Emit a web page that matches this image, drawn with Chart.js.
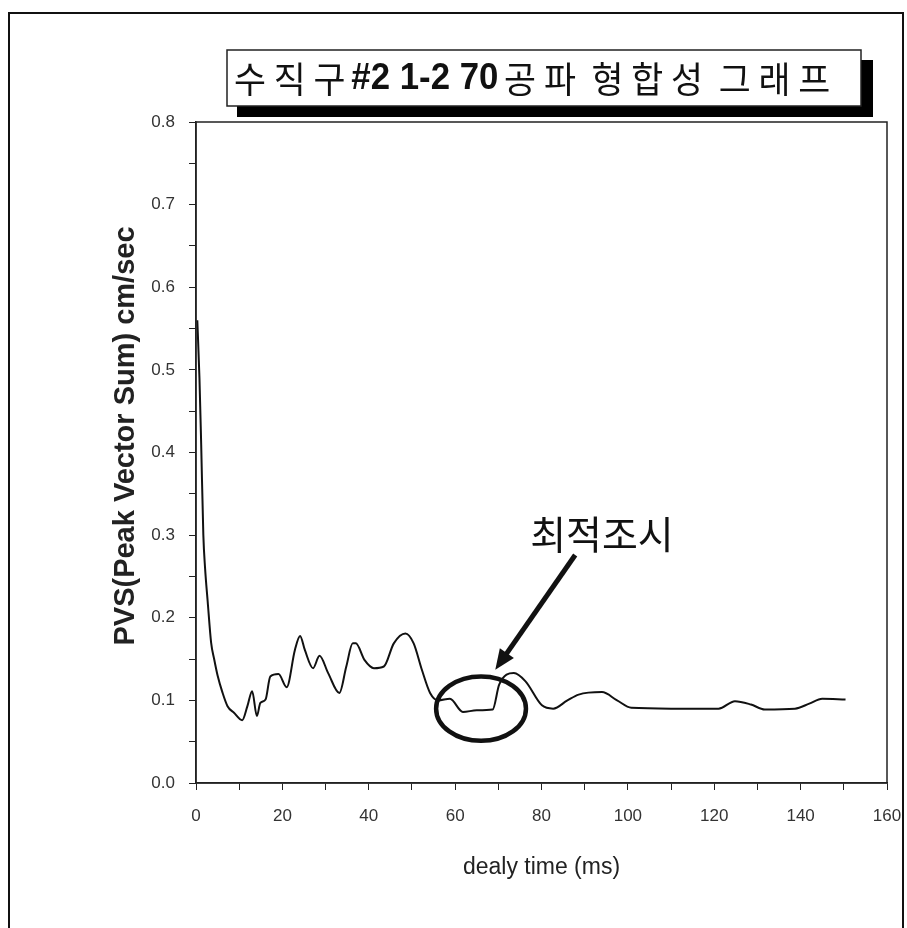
<!DOCTYPE html>
<html>
<head>
<meta charset="utf-8">
<script src="https://cdn.jsdelivr.net/npm/chart.js@4.4.1/dist/chart.umd.min.js"></script>
<style>
  body { margin: 0; background: #fff; }
  #wrap { width: 907px; height: 928px; position: relative; }
</style>
</head>
<body>
<div id="wrap"><canvas id="pvs"></canvas></div>
<script>
// data (delay time in ms, PVS in cm/sec)
const timeMs = [0.3, 0.8, 1.2, 1.7, 2.1, 2.7, 3.5, 4.2, 5.0, 6.1, 7.3, 8.8, 10.7, 11.9, 13.0, 14.1, 14.9, 16.1, 17.2, 19.1,
  21.0, 22.9, 24.1, 25.2, 27.1, 28.6, 30.6, 33.2, 34.8, 36.3, 37.0, 39.0, 41.2, 43.5, 45.8, 48.5, 50.4, 52.3, 54.2, 56.1,
  58.8, 61.8, 65.0, 68.7, 70.2, 73.6, 76.3, 80.1, 82.7, 86.0, 88.6, 94.0, 97.5, 100.8, 110.0, 121.0, 124.8, 128.5, 131.7,
  138.7, 142.0, 145.0, 150.4];
const pvs = [0.56, 0.49, 0.41, 0.30, 0.26, 0.22, 0.17, 0.15, 0.13, 0.11, 0.093, 0.085, 0.076, 0.093, 0.111, 0.081, 0.097, 0.101, 0.129, 0.132,
  0.116, 0.161, 0.178, 0.161, 0.139, 0.154, 0.133, 0.109, 0.141, 0.169, 0.169, 0.149, 0.139, 0.141, 0.169, 0.181, 0.169, 0.137, 0.109, 0.100,
  0.102, 0.086, 0.088, 0.089, 0.119, 0.133, 0.123, 0.094, 0.090, 0.100, 0.107, 0.110, 0.100, 0.091, 0.090, 0.090, 0.099, 0.095, 0.089,
  0.090, 0.096, 0.102, 0.101];

const xTickLabels = [0, 20, 40, 60, 80, 100, 120, 140, 160];
const yTickLabels = [0.0, 0.1, 0.2, 0.3, 0.4, 0.5, 0.6, 0.7, 0.8];

const titleParts = [
  ['수 직 구', 'normal'],
  ['#2 1-2 70', 'bold'],
  ['공 파  형 합 성  그 래 프', 'normal']
];
const yTitle = 'PVS(Peak Vector Sum) cm/sec';
const xTitle = 'dealy time (ms)';
const noteText = '최적조시';
// annotation in data units: circle centre/radii, arrow tail/head, label centre
const noteCircle = { x: 66, y: 0.09, rx: 10.4, ry: 0.039 };
const noteArrow = { x0: 87.8, y0: 0.276, x1: 69.3, y1: 0.137 };
const noteLabel = { x: 94, y: 0.301 };

const points = timeMs.map((t, i) => ({ x: t, y: pvs[i] }));

//Rahmen, Titel, Achsentitel und Markierung
const decor = {
  id: 'decor',
  beforeDraw(chart) {
    const c = chart.ctx;
    c.save();
    c.fillStyle = '#fff';
    c.fillRect(0, 0, chart.width, chart.height);
    c.strokeStyle = '#111';
    c.lineWidth = 2;
    c.beginPath();
    c.moveTo(9, 928); c.lineTo(9, 13); c.lineTo(903, 13); c.lineTo(903, 928);
    c.stroke();
    c.restore();
  },
  afterDraw(chart) {
    const c = chart.ctx;
    const a = chart.chartArea;
    const sx = chart.scales.x, sy = chart.scales.y;
    c.save();
    // box around the plot
    c.strokeStyle = '#222';
    c.lineWidth = 1.5;
    c.strokeRect(a.left, a.top, a.right - a.left, a.bottom - a.top);

    // title box with shadow
    c.fillStyle = '#000';
    c.fillRect(237, 60, 636, 57);
    c.fillStyle = '#fff';
    c.fillRect(227, 50, 634, 56);
    c.strokeStyle = '#222';
    c.lineWidth = 1.5;
    c.strokeRect(227, 50, 634, 56);
    c.fillStyle = '#111';
    c.textBaseline = 'middle';
    const fonts = { normal: '36px "Noto Sans CJK KR"', bold: 'bold 36px "Liberation Sans"' };
    let total = 0;
    titleParts.forEach(p => { c.font = fonts[p[1]]; total += c.measureText(p[0]).width + 6; });
    const scaleX = 602 / total;
    c.save();
    c.translate(234, 79);
    c.scale(scaleX, 1);
    let tx = 0;
    titleParts.forEach(p => {
      c.font = fonts[p[1]];
      c.fillText(p[0], tx, 0);
      tx += c.measureText(p[0]).width + 6;
    });
    c.restore();

    // axis titles
    c.fillStyle = '#222';
    c.textAlign = 'center';
    c.font = 'bold 29px "Liberation Sans"';
    c.save();
    c.translate(126, 436);
    c.rotate(-Math.PI / 2);
    c.fillText(yTitle, 0, 0);
    c.restore();
    c.font = '23px "Liberation Sans"';
    c.fillText(xTitle, (a.left + a.right) / 2, 868);

    // circle + arrow + note
    c.strokeStyle = '#111';
    c.lineWidth = 4.5;
    const cx = sx.getPixelForValue(noteCircle.x), cy = sy.getPixelForValue(noteCircle.y);
    const rx = sx.getPixelForValue(noteCircle.x + noteCircle.rx) - cx;
    const ry = cy - sy.getPixelForValue(noteCircle.y + noteCircle.ry);
    c.beginPath();
    c.ellipse(cx, cy, rx, ry, 0, 0, Math.PI * 2);
    c.stroke();
    const x0 = sx.getPixelForValue(noteArrow.x0), y0 = sy.getPixelForValue(noteArrow.y0);
    const x1 = sx.getPixelForValue(noteArrow.x1), y1 = sy.getPixelForValue(noteArrow.y1);
    const ang = Math.atan2(y1 - y0, x1 - x0);
    const hl = 22;
    c.lineWidth = 5;
    c.beginPath();
    c.moveTo(x0, y0);
    c.lineTo(x1 - Math.cos(ang) * hl * 0.8, y1 - Math.sin(ang) * hl * 0.8);
    c.stroke();
    c.fillStyle = '#111';
    c.beginPath();
    c.moveTo(x1, y1);
    c.lineTo(x1 - hl * Math.cos(ang - 0.4), y1 - hl * Math.sin(ang - 0.4));
    c.lineTo(x1 - hl * Math.cos(ang + 0.4), y1 - hl * Math.sin(ang + 0.4));
    c.closePath();
    c.fill();
    c.font = '39px "Noto Sans CJK KR"';
    c.textBaseline = 'middle';
    c.fillText(noteText, sx.getPixelForValue(noteLabel.x), sy.getPixelForValue(noteLabel.y));
    c.restore();
  }
};

const canvas = document.getElementById('pvs');
canvas.width = 907;
canvas.height = 928;

new Chart(canvas, {
  type: 'line',
  data: {
    datasets: [{
      data: points,
      borderColor: '#111',
      borderWidth: 2,
      pointRadius: 0,
      fill: false,
      cubicInterpolationMode: 'monotone'
    }]
  },
  options: {
    responsive: false,
    animation: false,
    layout: { padding: { left: 0, top: 122, right: 0, bottom: 0 } },
    plugins: { legend: { display: false }, tooltip: { enabled: false } },
    scales: {
      x: {
        type: 'linear',
        min: 0, max: 160,
        afterFit(s) { s.height = 145; s.paddingLeft = 0; s.paddingRight = 20; },
        ticks: {
          stepSize: 10,
          autoSkip: false,
          maxRotation: 0,
          padding: 16,
          color: '#333',
          font: { family: 'Liberation Sans', size: 17 },
          callback: v => xTickLabels.includes(v) ? String(v) : ''
        },
        grid: { drawOnChartArea: false, tickLength: 7, color: '#222' },
        border: { color: '#222', width: 1.5 }
      },
      y: {
        min: 0, max: 0.8,
        afterFit(s) { s.width = 196; s.paddingTop = 0; s.paddingBottom = 0; },
        ticks: {
          stepSize: 0.05,
          autoSkip: false,
          padding: 14,
          color: '#333',
          font: { family: 'Liberation Sans', size: 17 },
          callback: v => {
            const hit = yTickLabels.find(t => Math.abs(t - v) < 1e-6);
            return hit === undefined ? '' : hit.toFixed(1);
          }
        },
        grid: { drawOnChartArea: false, tickLength: 7, color: '#222' },
        border: { color: '#222', width: 1.5 }
      }
    }
  },
  plugins: [decor]
});
</script>
</body>
</html>
